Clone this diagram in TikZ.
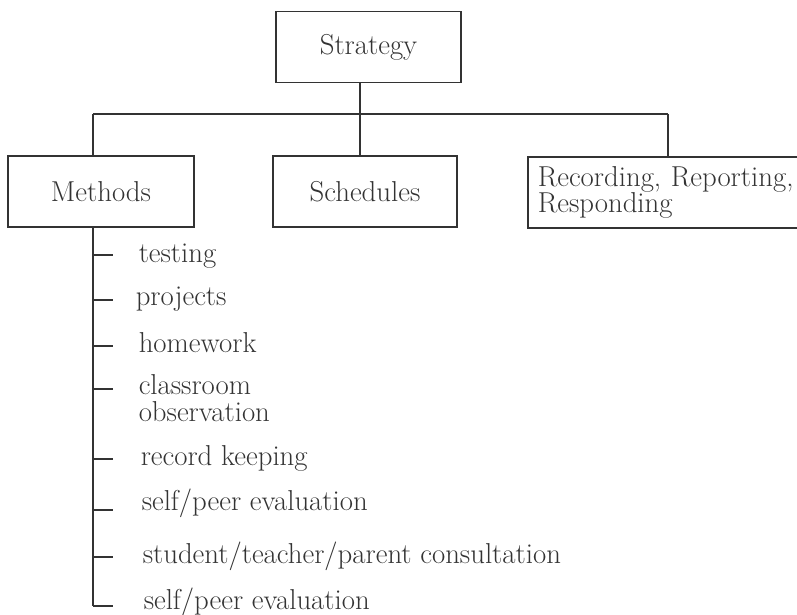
\documentclass[tikz,border=0pt]{standalone}
\usepackage{fontspec}
\setmainfont{Latin Modern Roman}
\begin{document}
\begin{tikzpicture}[x=1pt, y=-1pt, line width=1.5pt, black!80,
  box/.style={draw, rectangle, minimum width=#1, minimum height=71pt, inner sep=0pt},
  item/.style={anchor=base west, align=left, inner sep=0pt},
  font=\fontsize{28.8}{26.5}\selectfont]
\useasboundingbox (0,0) rectangle (797,615);
\clip (0,0) rectangle (797,615);
% top and second row
\node[box=185pt] (strat) at (368.5,47) {Strategy};
\node[box=186pt] (meth) at (101,191.5) {Methods};
\node[box=184pt] (sched) at (365,191.5) {Schedules};
\node[draw, anchor=north west, minimum height=71pt, text width=270pt,
  inner xsep=10pt, inner ysep=0pt, align=left] (rec) at (527,156) {Recording, Reporting,\\Responding};
% bus
\coordinate (jM) at (93,114);
\coordinate (jS) at (360,114);
\coordinate (jR) at (668,114);
\draw (jM) -- (jR);
\draw (strat.south -| jS) -- (sched.north -| jS);
\draw (jM) -- (jM |- meth.north);
\draw (jR) -- (jR |- rec.north);
% list under methods
\foreach \y/\b/\x/\n/\t in {255/262/138/it1/testing, 300/305/135/it2/projects,
  346/352/138/it3/homework, 389/421/138/it4/{classroom\\observation},
  459/465/140/it5/record keeping, 510/510/141/it6/{self/peer evaluation},
  557/563/142/it7/{student/teacher/parent consultation},
  606/609/143/it8/{self/peer evaluation}}{
  \node[item] (\n) at (\x,\b) {\t};
  \coordinate (\n t) at (93,\y);
  \draw (\n t) -- ++(20,0);
}
\draw (meth.south -| jM) -- (it8t);
\end{tikzpicture}
\end{document}
